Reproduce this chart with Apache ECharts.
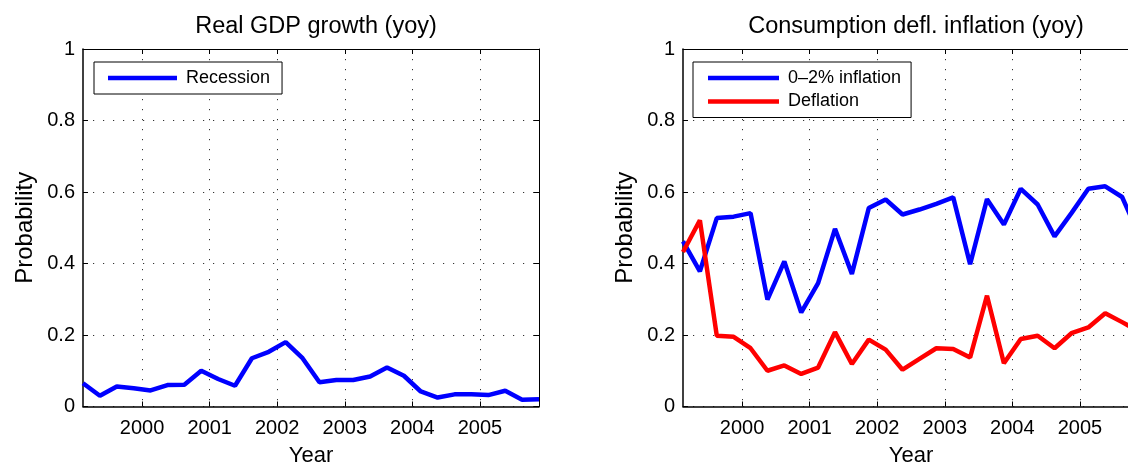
<!DOCTYPE html>
<html>
<head>
<meta charset="utf-8">
<script src="https://cdn.jsdelivr.net/npm/echarts@6/dist/echarts.min.js"></script>
<style>html,body{margin:0;padding:0;background:#fff}#c{width:1128px;height:465px}</style>
</head>
<body>
<div id="c"></div>
<script>
// Quarter midpoints (year fraction)
const quarters = [1999.125, 1999.375, 1999.625, 1999.875, 2000.125, 2000.375, 2000.625, 2000.875,
  2001.125, 2001.375, 2001.625, 2001.875, 2002.125, 2002.375, 2002.625, 2002.875,
  2003.125, 2003.375, 2003.625, 2003.875, 2004.125, 2004.375, 2004.625, 2004.875,
  2005.125, 2005.375, 2005.625, 2005.875];
const yearTicks = [2000, 2001, 2002, 2003, 2004, 2005];
const recession = [0.065, 0.030, 0.056, 0.051, 0.045, 0.060, 0.061, 0.100,
  0.077, 0.058, 0.135, 0.153, 0.180, 0.135, 0.068, 0.074,
  0.074, 0.084, 0.109, 0.086, 0.042, 0.025, 0.034, 0.034,
  0.032, 0.044, 0.019, 0.020];
const inflation02 = [0.462, 0.378, 0.527, 0.531, 0.541, 0.299, 0.406, 0.263,
  0.345, 0.497, 0.371, 0.555, 0.579, 0.537, 0.551, 0.567,
  0.585, 0.398, 0.580, 0.509, 0.609, 0.565, 0.476, 0.541,
  0.609, 0.616, 0.586, 0.480];
const deflation = [0.432, 0.521, 0.198, 0.195, 0.163, 0.100, 0.115, 0.091,
  0.109, 0.208, 0.119, 0.187, 0.159, 0.103, 0.133, 0.163,
  0.161, 0.137, 0.310, 0.121, 0.189, 0.198, 0.163, 0.205,
  0.221, 0.261, 0.236, 0.210];
const titles = ['Real GDP growth (yoy)', 'Consumption defl. inflation (yoy)'];

const FONT = '"Liberation Sans", Arial, Helvetica, sans-serif';
const pair = (xs, ys) => xs.map((x, i) => [x, ys[i]]);
const grids = [
  {left: 83, top: 49, width: 456, height: 357.5, outerBoundsMode: 'none', containLabel: false},
  {left: 683, top: 49, width: 456, height: 357.5, outerBoundsMode: 'none', containLabel: false}
];
const centers = [83 + 228, 683 + 228];
const gridLine = {show: true, lineStyle: {color: '#333', type: [1.2, 8.8], width: 1}};
const tickStyle = {show: true, inside: true, length: 5, lineStyle: {color: '#000', width: 1}};
function xAxes(g) {
  return [
    {gridIndex: g, type: 'value', position: 'bottom', min: 1999.125, max: 2005.875,
     axisLine: {show: true, onZero: false, lineStyle: {color: '#000', width: 1.5}},
     axisTick: Object.assign({customValues: yearTicks}, tickStyle),
     axisLabel: {customValues: yearTicks, formatter: v => String(v), color: '#000', fontFamily: FONT, fontSize: 20, margin: 12},
     splitLine: gridLine,
     name: 'Year', nameLocation: 'middle', nameGap: 38,
     nameTextStyle: {color: '#000', fontFamily: FONT, fontSize: 22, verticalAlign: 'top'}},
    {gridIndex: g, type: 'value', position: 'top', min: 1999.125, max: 2005.875,
     axisLine: {show: true, onZero: false, lineStyle: {color: '#000', width: 1}},
     axisTick: Object.assign({customValues: yearTicks}, tickStyle),
     axisLabel: {show: false}, splitLine: {show: false}}
  ];
}
function yAxes(g) {
  return [
    {gridIndex: g, type: 'value', position: 'left', min: 0, max: 1, interval: 0.2,
     axisLine: {show: true, onZero: false, lineStyle: {color: '#000', width: 1.5}},
     axisTick: tickStyle,
     axisLabel: {color: '#000', fontFamily: FONT, fontSize: 20, margin: 8},
     splitLine: gridLine,
     name: 'Probability', nameLocation: 'middle', nameGap: 46,
     nameTextStyle: {color: '#000', fontFamily: FONT, fontSize: 24}},
    {gridIndex: g, type: 'value', position: 'right', min: 0, max: 1, interval: 0.2,
     axisLine: {show: true, onZero: false, lineStyle: {color: '#000', width: 1}},
     axisTick: tickStyle, axisLabel: {show: false}, splitLine: {show: false}}
  ];
}
const legendText = {color: '#000', fontFamily: FONT, fontSize: 18, padding: [0, 0, 0, 4]};
const option = {
  animation: false,
  backgroundColor: '#fff',
  title: titles.map((t, i) => ({
    text: t, left: centers[i], top: 10, textAlign: 'center',
    textStyle: {color: '#000', fontFamily: FONT, fontSize: 23.5, fontWeight: 'normal'}
  })),
  grid: grids,
  xAxis: [...xAxes(0), ...xAxes(1)],
  yAxis: [...yAxes(0), ...yAxes(1)],
  legend: [
    {data: ['Recession'], left: 94, top: 62, orient: 'vertical', icon: 'rect',
     itemWidth: 69, itemHeight: 4.5, itemGap: 3, padding: [7, 12, 7, 14],
     backgroundColor: '#fff', borderColor: '#000', borderWidth: 1, textStyle: legendText},
    {data: ['0\u20132% inflation', 'Deflation'], left: 693, top: 62, orient: 'vertical', icon: 'rect',
     itemWidth: 71, itemHeight: 4.5, itemGap: 5.5, padding: [7, 10, 7, 15],
     backgroundColor: '#fff', borderColor: '#000', borderWidth: 1, textStyle: legendText}
  ],
  series: [
    {name: 'Recession', type: 'line', xAxisIndex: 0, yAxisIndex: 0, data: pair(quarters, recession),
     showSymbol: false, color: '#0000ff', lineStyle: {width: 4.5, color: '#0000ff'}, z: 3},
    {name: '0\u20132% inflation', type: 'line', xAxisIndex: 2, yAxisIndex: 2, data: pair(quarters, inflation02),
     showSymbol: false, color: '#0000ff', lineStyle: {width: 4.5, color: '#0000ff'}, z: 3},
    {name: 'Deflation', type: 'line', xAxisIndex: 2, yAxisIndex: 2, data: pair(quarters, deflation),
     showSymbol: false, color: '#ff0000', lineStyle: {width: 4.5, color: '#ff0000'}, z: 4}
  ]
};
const chart = echarts.init(document.getElementById('c'), null, {renderer: 'canvas'});
chart.setOption(option);
</script>
</body>
</html>
